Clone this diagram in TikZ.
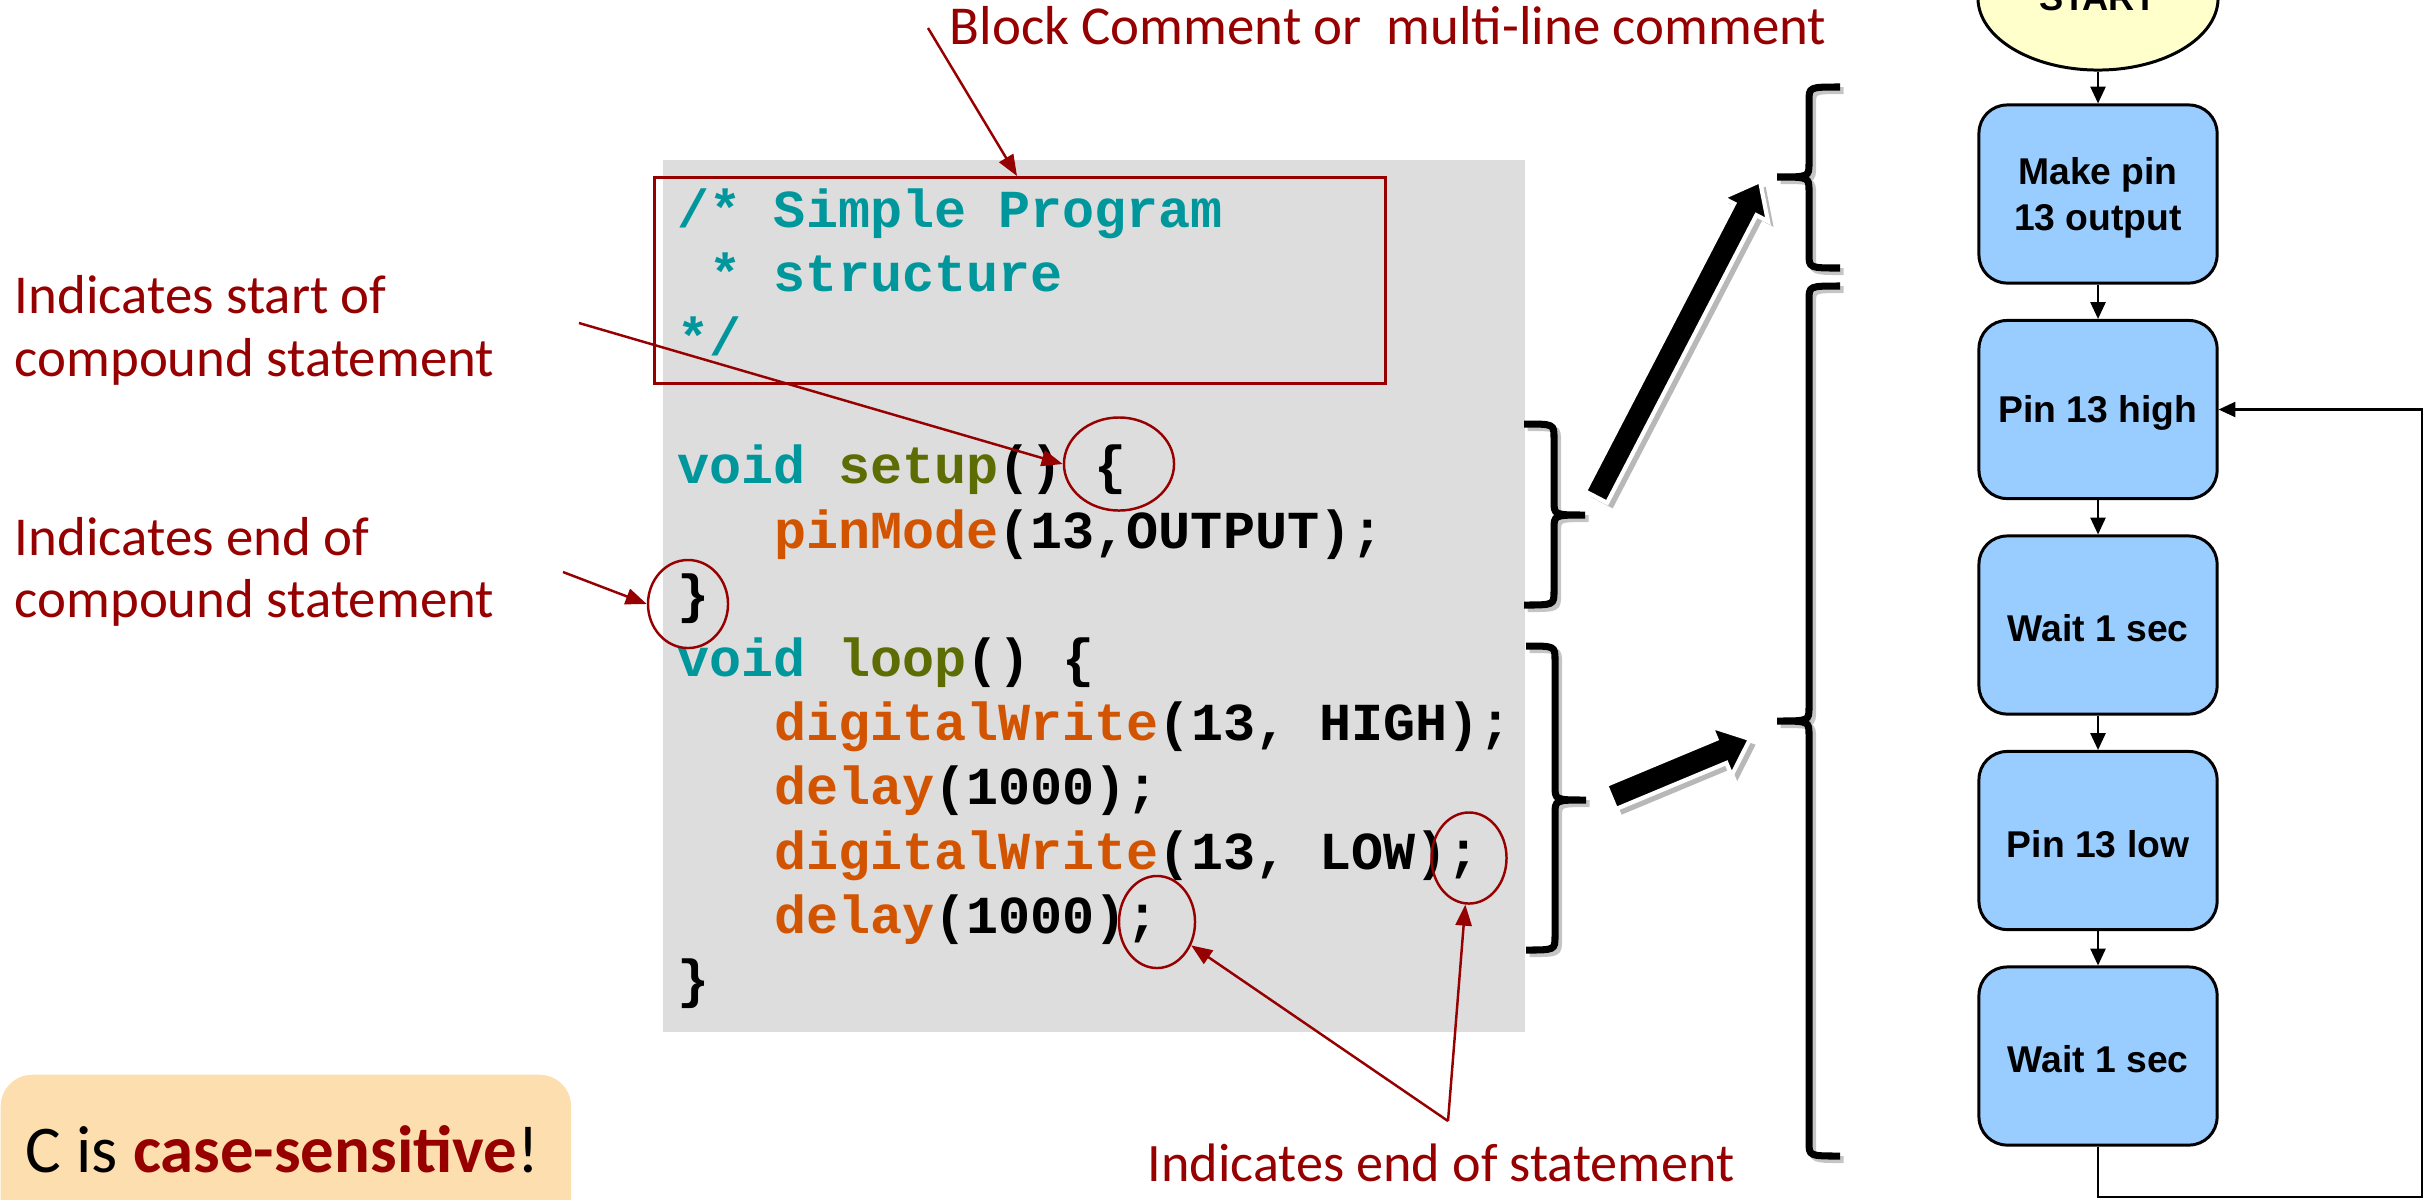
\documentclass[tikz,border=0pt]{standalone}
\usepackage{fontspec}
\setmainfont{Carlito}
\newfontfamily\codefont{Liberation Mono}
\newfontfamily\flowfont{Liberation Sans}
\usetikzlibrary{arrows.meta,calc,shapes.geometric}

\definecolor{lblred}{RGB}{150,0,0}
\definecolor{codeteal}{RGB}{0,151,156}
\definecolor{codeolive}{RGB}{94,109,3}
\definecolor{codeorange}{RGB}{211,84,0}
\definecolor{codebg}{RGB}{221,221,221}
\definecolor{notebg}{RGB}{252,222,175}
\definecolor{flowblue}{RGB}{153,204,255}
\definecolor{startyellow}{RGB}{255,255,204}

% block arrow: #1 tail, #2 tip, #3 shaft half width, #4 head half width, #5 head length
\newcommand{\drawblockarrow}[5]{%
  \coordinate (bah) at ($(#2)!#5!(#1)$);
  \begin{scope}[transform canvas={xshift=1.6pt,yshift=-1.6pt}]
    \fill[black,opacity=0.28] ($(#1)!#3!90:(#2)$) -- ($(bah)!#3!90:(#2)$) -- ($(bah)!#4!90:(#2)$) -- (#2)
      -- ($(bah)!#4!-90:(#2)$) -- ($(bah)!#3!-90:(#2)$) -- ($(#1)!#3!-90:(#2)$) -- cycle;
  \end{scope}
  \filldraw[fill=black,draw=white,line width=1.2pt,line join=miter]
    ($(#1)!#3!90:(#2)$) -- ($(bah)!#3!90:(#2)$) -- ($(bah)!#4!90:(#2)$) -- (#2)
      -- ($(bah)!#4!-90:(#2)$) -- ($(bah)!#3!-90:(#2)$) -- ($(#1)!#3!-90:(#2)$) -- cycle;
}
% brace: #1 end x, #2 spine x, #3 tip x, #4 top y, #5 mid y, #6 bottom y
\newcommand{\drawbracepath}[6]{%
  (#1,#4) .. controls (#2,#4) .. (#2,#4+14) -- (#2,#5-14) .. controls (#2,#5) .. (#3,#5)
  .. controls (#2,#5) .. (#2,#5+14) -- (#2,#6-14) .. controls (#2,#6) .. (#1,#6)}
\newcommand{\drawbrace}[6]{%
  \draw[black!45,opacity=0.5,line width=2pt,transform canvas={xshift=1pt,yshift=-1pt}] \drawbracepath{#1}{#2}{#3}{#4}{#5}{#6};
  \draw[black,line width=2pt] \drawbracepath{#1}{#2}{#3}{#4}{#5}{#6};
}

\begin{document}
\begin{tikzpicture}[x=0.01cm,y=-0.01cm,
  lbl/.style={font=\fontsize{15.6}{18}\selectfont, text=lblred, inner sep=0, anchor=base west},
  codeline/.style={font=\codefont\bfseries\fontsize{15.2}{18}\selectfont, inner sep=0, anchor=base west},
  redarrow/.style={draw=lblred, line width=0.7pt, -{Triangle[length=6pt,width=4.6pt]}},
  redring/.style={draw=lblred, line width=0.7pt, ellipse, inner sep=0},
  flowtext/.style={align=center, inner sep=0, yshift=-1pt,
     font=\flowfont\bfseries\fontsize{10.6}{13.1}\selectfont},
  flowbox/.style={draw=black, line width=0.85pt, fill=flowblue, rounded corners=8pt,
     minimum width=2.38cm, minimum height=1.78cm, inner sep=0,
     label={[flowtext]center:#1}},
  flowarrow/.style={draw=black, line width=0.6pt, -{Triangle[length=4.8pt,width=4.3pt]}}
]
\useasboundingbox (0,0) rectangle (2428,1199);

% ---------- code box ----------
\node[fill=codebg, anchor=north west, minimum width=8.62cm, minimum height=8.72cm, inner sep=0] (codebox) at (662,159) {};
\node[draw=lblred, line width=0.85pt, anchor=north west, minimum width=7.31cm, minimum height=2.06cm, inner sep=0] (cbox) at (653,176) {};

\node[codeline] (c1) at (677,227) {\textcolor{codeteal}{/* Simple Program}};
\node[codeline] (c2) at (709,291.2) {\textcolor{codeteal}{* structure}};
\node[codeline] (c3) at (677,355.4) {\textcolor{codeteal}{*/}};
\node[codeline] (c5) at (677,483.8) {\textcolor{codeteal}{void} \textcolor{codeolive}{setup}() \{};
\node[codeline] (c6) at (773.3,548) {\textcolor{codeorange}{pinMode}(13,OUTPUT);};
\node[codeline] (c7) at (677,612.2) {\}};
\node[codeline] (c8) at (677,676.4) {\textcolor{codeteal}{void} \textcolor{codeolive}{loop}() \{};
\node[codeline] (c9) at (773.3,740.6) {\textcolor{codeorange}{digitalWrite}(13, HIGH);};
\node[codeline] (c10) at (773.3,804.8) {\textcolor{codeorange}{delay}(1000);};
\node[codeline] (c11) at (773.3,869) {\textcolor{codeorange}{digitalWrite}(13, LOW);};
\node[codeline] (c12) at (773.3,933.2) {\textcolor{codeorange}{delay}(1000);};
\node[codeline] (c13) at (677,997.4) {\}};

% ---------- rings ----------
\node[redring, minimum width=1.10cm, minimum height=0.93cm] (ringopen) at (1119,464) {};
\node[redring, minimum width=0.80cm, minimum height=0.88cm] (ringclose) at (688,604) {};
\node[redring, minimum width=0.75cm, minimum height=0.91cm] (ringlow) at (1469,858) {};
\node[redring, minimum width=0.76cm, minimum height=0.92cm] (ringdelay) at (1157,922) {};

% ---------- labels ----------
\node[lbl] (ttl) at (949,44) {Block Comment or\ \ multi-line comment};
\node[lbl] (ls1) at (14,313) {Indicates start of};
\node[lbl] (ls2) at (14,376) {compound statement};
\node[lbl] (le1) at (14,555) {Indicates end of};
\node[lbl] (le2) at (14,617) {compound statement};
\node[lbl, font=\fontsize{15.4}{18}\selectfont] (lst) at (1147,1181) {Indicates end of statement};

\coordinate (ttlfoot) at (928,28);
\coordinate (lsfoot) at (579,323);
\coordinate (lefoot) at (563,572);
\coordinate (lstfoot) at (1448,1121);
\draw[redarrow] (ttlfoot) -- ($(cbox.north west)+(364,0)$);
\draw[redarrow] (lsfoot) -- (ringopen.west);
\draw[redarrow] (lefoot) -- (ringclose.west);
\draw[redarrow] (lstfoot) -- (ringdelay);
\draw[redarrow] (lstfoot) -- (ringlow);

% ---------- note box ----------
\node[fill=notebg, rounded corners=9pt, anchor=north west, minimum width=5.70cm, minimum height=1.6cm, inner sep=0] (notebox) at (0,1074) {};
\node[inner sep=0, anchor=base west, font=\fontsize{19}{22}\selectfont] (notetext) at (25,1172) {C is \textbf{\textcolor{lblred}{case-sensitive}}!};

% ---------- braces ----------
\drawbrace{1524}{1554}{1585}{424}{515}{605}
\drawbrace{1526}{1555}{1586}{646}{800}{950}
\drawbrace{1840}{1809}{1777}{87}{177}{268}
\drawbrace{1840}{1809}{1777}{286}{721}{1156}

% ---------- block arrows ----------
\coordinate (aAtail) at (1596,497);
\coordinate (aAtip) at (1760,181);
\coordinate (aBtail) at (1611,797);
\coordinate (aBtip) at (1750,739);
\drawblockarrow{aAtail}{aAtip}{0.125cm}{0.255cm}{0.32cm}
\drawblockarrow{aBtail}{aBtip}{0.13cm}{0.265cm}{0.31cm}

% ---------- flowchart ----------
\node[draw=black, line width=0.85pt, fill=startyellow, ellipse, minimum width=2.40cm, minimum height=1.44cm, inner sep=0,
      font=\flowfont\bfseries\fontsize{10.3}{13.1}\selectfont] (start) at (2098,-2) {START};
\node[flowbox={Make pin\\13 output}] (b1) at (2098,194) {};
\node[flowbox={Pin 13 high}] (b2) at (2098,409.5) {};
\node[flowbox={Wait 1 sec}] (b3) at (2098,625) {};
\node[flowbox={Pin 13 low}] (b4) at (2098,840.5) {};
\node[flowbox={Wait 1 sec}] (b5) at (2098,1056) {};
\draw[flowarrow] (start) -- (b1);
\draw[flowarrow] (b1) -- (b2);
\draw[flowarrow] (b2) -- (b3);
\draw[flowarrow] (b3) -- (b4);
\draw[flowarrow] (b4) -- (b5);
\draw[flowarrow] (b5.south) -- ++(0,50) -- ++(324,0) |- (b2.east);
\end{tikzpicture}
\end{document}
